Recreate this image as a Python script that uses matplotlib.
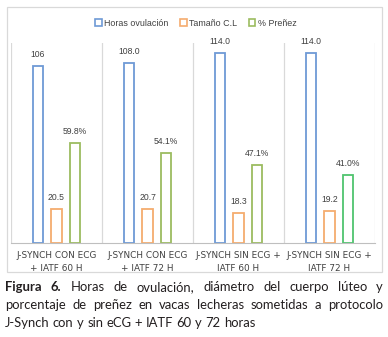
import numpy as np
import matplotlib
matplotlib.use("Agg")
import matplotlib.pyplot as plt
from matplotlib.patches import Patch, Rectangle

# datos por grupo
grupos = ["J-SYNCH CON ECG\n+ IATF 60 H", "J-SYNCH CON ECG\n+ IATF 72 H",
          "J-SYNCH SIN ECG +\nIATF 60 H", "J-SYNCH SIN ECG +\nIATF 72 H"]
horas_ovulacion = [106, 108.0, 114.0, 114.0]
horas_etiquetas = ["106", "108.0", "114.0", "114.0"]
tamano_cl = [20.5, 20.7, 18.3, 19.2]
prenez = [59.8, 54.1, 47.1, 41.0]
series = ["Horas ovulación", "Tamaño C.L", "% Preñez"]

c_azul = "#6E9AD6"
c_naranja = "#F5AC6E"
c_verde = "#9CBC60"
c_verde2 = "#4FC46E"
c_texto = "#404040"
fuente = "Liberation Sans"

fig = plt.figure(figsize=(3.88, 3.37), dpi=100)
W, H = 388, 337

# marco del gráfico
fig.patches.append(Rectangle((7 / W, 1 - 272 / H), 375 / W, 265 / H,
                             transform=fig.transFigure, fill=False,
                             edgecolor="#D9D9D9", linewidth=0.9))

ax = fig.add_axes([11 / W, 94 / H, 364 / W, 200 / H])
x = np.arange(len(grupos))
ancho = 0.11
sep = 0.203

colores_verde = [c_verde, c_verde, c_verde, c_verde2]
kw = dict(width=ancho, facecolor="white", linewidth=1.3)
b1 = ax.bar(x - sep, horas_ovulacion, edgecolor=c_azul, **kw)
b2 = ax.bar(x, tamano_cl, edgecolor=c_naranja, **kw)
b3 = ax.bar(x + sep, prenez, edgecolor=colores_verde, **kw)

fs = 6.2
etiquetas = [horas_etiquetas, [f"{v:.1f}" for v in tamano_cl],
             [f"{v:.1f}%" for v in prenez]]
for barras, textos in zip((b1, b2, b3), etiquetas):
    for r, t in zip(barras, textos):
        ax.annotate(t, (r.get_x() + r.get_width() / 2, r.get_height()),
                    xytext=(0, 5), textcoords="offset points", ha="center",
                    va="bottom", fontsize=fs, color=c_texto, family=fuente)

ax.set_xlim(-0.5, len(grupos) - 0.5)
ax.set_ylim(0, 120)
for xv in np.arange(-0.5, len(grupos), 1.0):
    ax.axvline(xv, color="#D9D9D9", linewidth=0.9, zorder=0)
for s in ["top", "right", "left"]:
    ax.spines[s].set_visible(False)
ax.spines["bottom"].set_color("#BFBFBF")
ax.set_yticks([])
ax.set_xticks(x)
ax.set_xticklabels(grupos, fontsize=6.4, color=c_texto, linespacing=1.5,
                   family="DejaVu Sans")
ax.tick_params(axis="x", length=0, pad=6)

handles = [Patch(facecolor="white", edgecolor=c, linewidth=1.2)
           for c in (c_azul, c_naranja, c_verde)]
fig.legend(handles, series, loc="center", bbox_to_anchor=(196 / W, 1 - 23 / H),
           ncol=3, frameon=False, prop={"family": fuente, "size": 6.4},
           handlelength=0.7, handleheight=0.7, handletextpad=0.3,
           columnspacing=1.3, labelcolor=c_texto)

# pie de figura justificado
renderer = fig.canvas.get_renderer()
cap_fam = "Lato"
x0, x1 = 5, 383
ultima = "J-Synch con y sin eCG + IATF 60 y 72 horas"
lineas = [
    [("Figura", True), ("6.", True), ("Horas", False), ("de", False),
     ("ovulación,", False), ("diámetro", False), ("del", False),
     ("cuerpo", False), ("lúteo", False), ("y", False)],
    [(w, False) for w in "porcentaje de preñez en vacas lecheras sometidas a protocolo".split()],
    [(w, False) for w in ultima.split()],
]


def ancho_px(s, size, bold=False):
    t = fig.text(0, 0, s, fontsize=size, family=cap_fam,
                 fontweight="bold" if bold else "normal")
    w = t.get_window_extent(renderer).width
    t.remove()
    return w


# tamaño de letra para que la última línea mida unos 250 px
cap_fs = 10.0 * 250 / ancho_px(ultima, 10.0)
espacio = ancho_px("a a", cap_fs) - ancho_px("aa", cap_fs)

ys = [287, 305, 323]
for i, (linea, yp) in enumerate(zip(lineas, ys)):
    textos = []
    for w, bold in linea:
        t = fig.text(0, 1 - yp / H, w, fontsize=cap_fs, color="#231F20",
                     fontweight="bold" if bold else "normal", va="center",
                     family=cap_fam)
        textos.append(t)
    anchos = [t.get_window_extent(renderer).width for t in textos]
    if i < len(lineas) - 1:
        hueco = (x1 - x0 - sum(anchos)) / (len(textos) - 1)
    else:
        hueco = espacio
    xp = x0
    for t, a in zip(textos, anchos):
        t.set_x(xp / W)
        xp += a + hueco

fig.savefig("out.png", dpi=100)
